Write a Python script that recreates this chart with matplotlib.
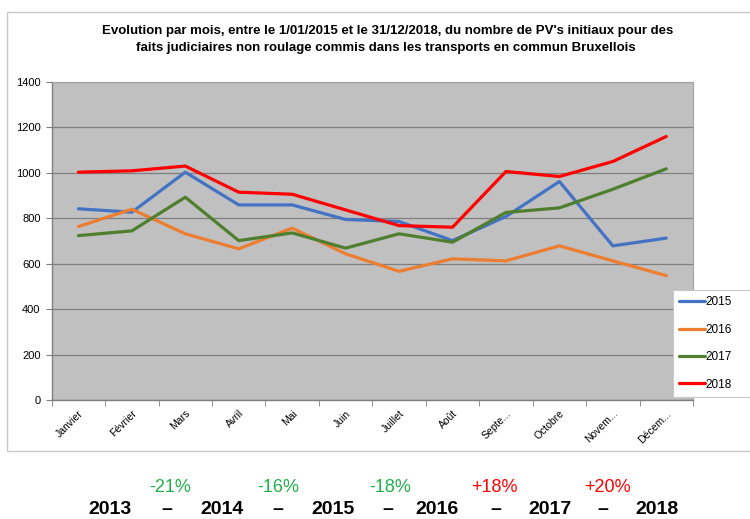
import matplotlib
matplotlib.use("Agg")
import matplotlib.pyplot as plt
from matplotlib.patches import Rectangle
import numpy as np

plt.rcParams['font.family'] = ['Liberation Sans', 'DejaVu Sans']

months = ["Janvier", "Février", "Mars", "Avril", "Mai", "Juin", "Juillet",
          "Août", "Septe...", "Octobre", "Novem...", "Décem..."]
v2015 = [841, 826, 1002, 858, 858, 794, 785, 701, 807, 961, 678, 712]
v2016 = [763, 839, 731, 665, 756, 643, 566, 621, 612, 678, 612, 547]
v2017 = [723, 744, 892, 701, 735, 668, 731, 694, 825, 845, 927, 1017]
v2018 = [1002, 1008, 1029, 914, 905, 836, 767, 760, 1005, 983, 1049, 1159]
series_names = ["2015", "2016", "2017", "2018"]
series_colors = ["#4472c4", "#ed7d31", "#4f7f2e", "#ff0000"]
yticks = [0, 200, 400, 600, 800, 1000, 1200, 1400]

years = ["2013", "2014", "2015", "2016", "2017", "2018"]
changes = ["-21%", "-16%", "-18%", "+18%", "+20%"]
change_colors = ["#22b04c", "#22b04c", "#22b04c", "#ff0000", "#ff0000"]

W, H = 750, 519
fig = plt.figure(figsize=(W / 100, H / 100), dpi=100)

# chart frame
fig.patches.append(Rectangle((7 / W, 1 - 451 / H), 760 / W, (451 - 12) / H,
                             transform=fig.transFigure, fill=False,
                             edgecolor="#c8c8c8", linewidth=1.0, zorder=0))

ax = fig.add_axes([51.7 / W, 1 - 400 / H, (693 - 51.7) / W, (400 - 81.7) / H])
ax.set_facecolor("#c0c0c0")
x = np.arange(len(months))
for vals, name, col in zip([v2015, v2016, v2017, v2018], series_names, series_colors):
    ax.plot(x, vals, color=col, linewidth=2.3, label=name, solid_capstyle="round", zorder=3)

ax.set_xlim(-0.5, len(months) - 0.5)
ax.set_ylim(0, 1400)
ax.set_yticks(yticks)
ax.set_yticklabels([str(t) for t in yticks], fontsize=8)
ax.yaxis.grid(True, color="#7f7f7f", linewidth=0.9)
ax.set_axisbelow(True)
ax.set_xticks(x)
ax.set_xticklabels(months, rotation=45, ha="right", rotation_mode="anchor", fontsize=7.5)
ax.tick_params(axis="x", length=0, pad=6)
ax.set_xticks(np.arange(-0.5, len(months), 1), minor=True)
ax.tick_params(axis="x", which="minor", length=4, color="#7f7f7f", direction="out")
ax.tick_params(axis="y", length=4, color="#7f7f7f", direction="out", pad=4)
for s in ["left", "bottom"]:
    ax.spines[s].set_color("#7f7f7f")
    ax.spines[s].set_linewidth(1.0)
for s in ["top", "right"]:
    ax.spines[s].set_color("#a0a0a0")
    ax.spines[s].set_linewidth(0.8)

leg = ax.legend(loc="lower left", bbox_to_anchor=(673 / W, 1 - 397 / H, 80 / W, 110 / H),
                bbox_transform=fig.transFigure, mode="expand",
                fontsize=8.5, frameon=True, fancybox=False, handlelength=2.2,
                handletextpad=0.0, labelspacing=1.3, borderpad=0.55, borderaxespad=0)
leg.get_frame().set_edgecolor("#c8c8c8")
leg.get_frame().set_linewidth(0.8)
leg.get_frame().set_facecolor("white")
leg.get_frame().set_alpha(1)

fig.text(388 / W, 1 - 31 / H,
         "Evolution par mois, entre le 1/01/2015 et le 31/12/2018, du nombre de PV's initiaux pour des",
         ha="center", va="center", fontsize=9.5, fontweight="bold")
fig.text(386 / W, 1 - 48 / H,
         "faits judiciaires non roulage commis dans les transports en commun Bruxellois",
         ha="center", va="center", fontsize=9.5, fontweight="bold")

year_x = [110, 222, 333, 437, 550, 657]
dash_x = [167, 278, 388, 496, 603]
change_x = [170, 278, 390, 494, 607]
for xx, yr in zip(year_x, years):
    fig.text(xx / W, 1 - 510 / H, yr, ha="center", va="center", fontsize=14, fontweight="bold")
for xx in dash_x:
    fig.text(xx / W, 1 - 510 / H, "–", ha="center", va="center", fontsize=14, fontweight="bold")
for xx, ch, c in zip(change_x, changes, change_colors):
    fig.text(xx / W, 1 - 488 / H, ch, ha="center", va="center", fontsize=13, color=c)

fig.savefig("out.png", dpi=100)
